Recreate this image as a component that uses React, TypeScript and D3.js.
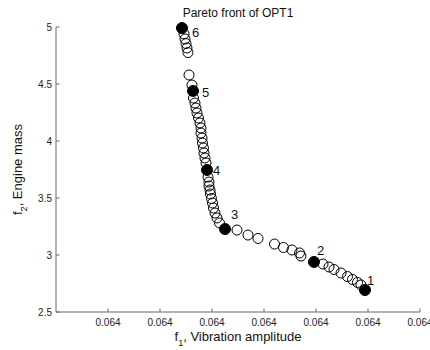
import React from "react";
import * as d3 from "d3";

// Pareto front points (open circles)
const frontX = [
  0.06399462, 0.06399481, 0.063995, 0.06399519, 0.06399538, 0.06399558, 0.06399615,
  0.06399644, 0.06399673, 0.06399692, 0.06399711, 0.0639974, 0.06399769, 0.06399788,
  0.06399788, 0.06399808, 0.06399817, 0.06399836, 0.06399846, 0.06399865, 0.06399885,
  0.06399923, 0.06399942, 0.06399942, 0.06399962, 0.06399971, 0.0639999, 0.0640001,
  0.06400029, 0.06400058, 0.06400096, 0.06400144, 0.06400481, 0.06400692, 0.06400885,
  0.06401202, 0.06401375, 0.06401538, 0.06401683, 0.06401711, 0.06402135, 0.0640225,
  0.06402346, 0.06402481, 0.06402606, 0.06402702, 0.06402798, 0.06402865,
];
const frontY = [
  4.939, 4.895, 4.855, 4.816, 4.776, 4.579, 4.491,
  4.377, 4.333, 4.289, 4.246, 4.202, 4.158, 4.114,
  4.07, 4.026, 3.982, 3.939, 3.895, 3.851, 3.807,
  3.684, 3.64, 3.605, 3.57, 3.535, 3.496, 3.456,
  3.412, 3.368, 3.325, 3.281, 3.219, 3.175, 3.145,
  3.096, 3.066, 3.044, 3.018, 2.991, 2.921, 2.895,
  2.873, 2.842, 2.811, 2.785, 2.759, 2.737,
];

// Selected solutions (filled)
const selLabels = ["1", "2", "3", "4", "5", "6"];
const selX = [0.06402942, 0.06401961, 0.0640025, 0.06399904, 0.06399635, 0.06399423];
const selY = [2.693, 2.939, 3.228, 3.746, 4.439, 4.991];

const xTicks = [0.06398, 0.06399, 0.064, 0.06401, 0.06402, 0.06403, 0.06404];
const yTicks = [2.5, 3, 3.5, 4, 4.5, 5];

// label offsets (layout)
const labelDx = [2, 3, 6, 6, 9, 10];
const labelDy = [-5, -7, -10, 5, 6, 9];

const W = 430;
const H = 350;
const M = { left: 56, right: 10, top: 27, bottom: 38 };

export default function App() {
  const x = d3.scaleLinear().domain([0.06397, 0.06404]).range([M.left, 420]);
  const y = d3.scaleLinear().domain([2.5, 5]).range([312, M.top]);
  const fmtX = d3.format(".3f");
  const axisColor = "#666";
  const font = "'Liberation Sans', Arial, sans-serif";

  return (
    <div style={{ position: "fixed", left: 0, top: 0 }}>
      <svg width={W} height={H} style={{ display: "block", background: "#fff" }} fontFamily={font}>
        <rect x={0} y={0} width={W} height={H} fill="#fff" />
        {/* axes */}
        <line x1={x(0.06397)} x2={x(0.06404)} y1={y(2.5)} y2={y(2.5)} stroke={axisColor} strokeWidth={1} />
        <line x1={x(0.06397)} x2={x(0.06397)} y1={y(2.5)} y2={y(5)} stroke={axisColor} strokeWidth={1} />
        {xTicks.map((t, i) => (
          <g key={"xt" + i}>
            <line x1={x(t)} x2={x(t)} y1={y(2.5)} y2={y(2.5) - 3.5} stroke={axisColor} />
            <text x={x(t)} y={326} fontSize={10} textAnchor="middle" fill="#222">
              {fmtX(t)}
            </text>
          </g>
        ))}
        {yTicks.map((t, i) => (
          <g key={"yt" + i}>
            <line x1={x(0.06397)} x2={x(0.06397) + 3.5} y1={y(t)} y2={y(t)} stroke={axisColor} />
            <text x={52} y={y(t) + 3.5} fontSize={10} textAnchor="end" fill="#222">
              {String(t)}
            </text>
          </g>
        ))}
        {/* title */}
        <text x={238} y={17} fontSize={12} textAnchor="middle" fill="#111">
          Pareto front of OPT1
        </text>
        {/* x label */}
        <text x={238} y={341} fontSize={13} textAnchor="middle" fill="#111">
          f<tspan fontSize={9} dy={5}>1</tspan>
          <tspan dy={-5}>, Vibration amplitude</tspan>
        </text>
        {/* y label */}
        <text transform={`translate(22,169.5) rotate(-90)`} fontSize={13} textAnchor="middle" fill="#111">
          f<tspan fontSize={9} dy={5}>2</tspan>
          <tspan dy={-5}>, Engine mass</tspan>
        </text>
        {/* open points */}
        {frontX.map((v, i) => (
          <circle key={"o" + i} cx={x(v)} cy={y(frontY[i])} r={5} fill="#fff" fillOpacity={0} stroke="#000" strokeWidth={1} />
        ))}
        {/* selected points */}
        {selX.map((v, i) => (
          <g key={"s" + i}>
            <circle cx={x(v)} cy={y(selY[i])} r={5.5} fill="#000" stroke="#000" />
            <text x={x(v) + labelDx[i]} y={y(selY[i]) + labelDy[i]} fontSize={13} fill="#111">
              {selLabels[i]}
            </text>
          </g>
        ))}
      </svg>
    </div>
  );
}
